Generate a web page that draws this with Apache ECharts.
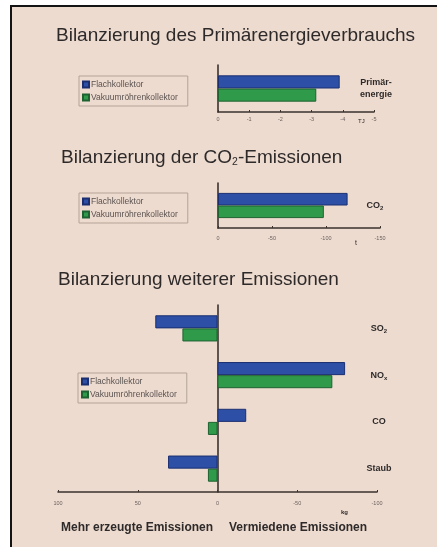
<!DOCTYPE html>
<html>
<head>
<meta charset="utf-8">
<script src="https://cdn.jsdelivr.net/npm/echarts@6/dist/echarts.min.js"></script>
<style>
  html, body { margin: 0; padding: 0; background: #ffffff; }
  #frame {
    position: absolute; left: 10px; top: 5px; width: 427px; height: 542px;
    background: #eddbcf; border-left: 2px solid #141414; border-top: 2px solid #141414;
    box-sizing: border-box;
  }
  #chart { position: absolute; left: 0; top: 0; width: 437px; height: 547px; }
</style>
</head>
<body>
<div id="frame"></div>
<div id="chart"></div>
<script>
// Series names
const seriesNames = ['Flachkollektor', 'Vakuumröhrenkollektor'];

// Primary energy balance (TJ), negative = saved
const energyCats = ['Primär-energie'];
const energyFlach = [-3.9];
const energyVakuum = [-3.15];
const energyTicks = { min: -5, max: 0, interval: 1 };

// CO2 balance (t)
const co2Cats = ['CO2'];
const co2Flach = [-120];
const co2Vakuum = [-98];
const co2Ticks = { min: -150, max: 0, interval: 50 };

// Further emissions (kg): positive = additionally produced, negative = avoided
const emisCats = ['SO2', 'NOx', 'CO', 'Staub'];
const emisFlach = [39, -80, -18, 31];
const emisVakuum = [22, -72, 6, 6];
const emisTicks = { min: -100, max: 100, interval: 50 };

const FONT = 'Liberation Sans, Arial, sans-serif';
const BLUE = '#2d4fa6';
const GREEN = '#2f9a4a';
const AXIS = '#3a322e';
const INK = '#2e2a2a';

const catRich = {
  b: { fontFamily: FONT, fontSize: 9, fontWeight: 'bold', color: INK, lineHeight: 12 },
  s: { fontFamily: FONT, fontSize: 6, fontWeight: 'bold', color: INK, verticalAlign: 'bottom', padding: [4, 0, 0, 0] }
};
function catFormatter(v) {
  if (v === 'Primär-energie') return '{b|Primär-}\n{b|energie}';
  if (v === 'CO2') return '{b|CO}{s|2}';
  if (v === 'SO2') return '{b|SO}{s|2}';
  if (v === 'NOx') return '{b|NO}{s|x}';
  return '{b|' + v + '}';
}

function valueAxis(grid, t, inverse, margin) {
  return {
    gridIndex: grid, type: 'value', min: t.min, max: t.max, interval: t.interval, inverse: inverse,
    axisLine: { show: true, lineStyle: { color: AXIS, width: 1.6 } },
    axisTick: { show: true, inside: true, length: 2, lineStyle: { color: AXIS, width: 1 } },
    axisLabel: { fontFamily: FONT, fontSize: 5.5, color: '#6b625e', margin: margin },
    splitLine: { show: false }
  };
}
function lineAxis(grid, cats) {
  return {
    gridIndex: grid, type: 'category', data: cats, inverse: true,
    axisLine: { show: true, onZero: true, lineStyle: { color: AXIS, width: 1.6 } },
    axisTick: { show: false }, axisLabel: { show: false }
  };
}
function labelAxis(grid, cats, margin) {
  return {
    gridIndex: grid, type: 'category', data: cats, inverse: true, position: 'right',
    axisLine: { show: false, onZero: false }, axisTick: { show: false },
    axisLabel: { align: 'center', margin: margin, formatter: catFormatter, rich: catRich }
  };
}
function bar(name, data, xi, yi, color, border, gap) {
  return {
    type: 'bar', name: name, data: data, xAxisIndex: xi, yAxisIndex: yi,
    barGap: '0%', barCategoryGap: gap,
    itemStyle: { color: color, borderColor: border, borderWidth: 1 }
  };
}
function legendAt(left, top) {
  return {
    data: seriesNames, orient: 'vertical', left: left, top: top,
    icon: 'rect', itemWidth: 6, itemHeight: 6, itemGap: 4,
    padding: [4, 10, 4, 3],
    borderColor: '#b5a398', borderWidth: 1,
    textStyle: { fontFamily: FONT, fontSize: 8.5, color: '#5a5250', padding: [0, 0, 0, -3] },
    selectedMode: false
  };
}
function heading(text, left, top, size, weight) {
  return {
    text: text, left: left, top: top,
    textStyle: {
      fontFamily: FONT, fontSize: size, fontWeight: weight || 'normal', color: INK,
      rich: {
        t: { fontFamily: FONT, fontSize: size, fontWeight: weight || 'normal', color: INK },
        s: { fontFamily: FONT, fontSize: size * 0.55, color: INK, verticalAlign: 'bottom', padding: [size * 0.5, 0, 0, 0] }
      }
    }
  };
}

const chart = echarts.init(document.getElementById('chart'), null, { renderer: 'canvas' });
chart.setOption({
  backgroundColor: 'transparent',
  animation: false,
  title: [
    heading('Bilanzierung des Primärenergieverbrauchs', 51, 21, 19),
    heading('{t|Bilanzierung der CO}{s|2}{t|-Emissionen}', 56, 143, 19),
    heading('Bilanzierung weiterer Emissionen', 53, 265, 19),
    heading('TJ', 353, 113, 6, 'normal'),
    heading('t', 350, 235, 7, 'normal'),
    heading('kg', 336, 504, 6, 'bold'),
    heading('Mehr erzeugte Emissionen', 56, 517, 12, 'bold'),
    heading('Vermiedene Emissionen', 224, 517, 12, 'bold')
  ],
  legend: [legendAt(79, 76), legendAt(79, 193), legendAt(78, 373)],
  grid: [
    { left: 218, top: 65, width: 156, height: 47 },
    { left: 218, top: 183, width: 162, height: 45 },
    { left: 58, top: 305, width: 319, height: 187 }
  ],
  xAxis: [
    valueAxis(0, energyTicks, true, 4),
    valueAxis(1, co2Ticks, true, 7),
    valueAxis(2, emisTicks, true, 8)
  ],
  yAxis: [
    lineAxis(0, energyCats), labelAxis(0, energyCats, 2),
    lineAxis(1, co2Cats), labelAxis(1, co2Cats, -5),
    lineAxis(2, emisCats), labelAxis(2, emisCats, 2)
  ],
  series: [
    bar(seriesNames[0], energyFlach, 0, 0, BLUE, '#1b2f70', '44%'),
    bar(seriesNames[1], energyVakuum, 0, 0, GREEN, '#1e6231', '44%'),
    bar(seriesNames[0], co2Flach, 1, 2, BLUE, '#1b2f70', '44%'),
    bar(seriesNames[1], co2Vakuum, 1, 2, GREEN, '#1e6231', '44%'),
    bar(seriesNames[0], emisFlach, 2, 4, BLUE, '#1b2f70', '44%'),
    bar(seriesNames[1], emisVakuum, 2, 4, GREEN, '#1e6231', '44%')
  ]
});
</script>
</body>
</html>
